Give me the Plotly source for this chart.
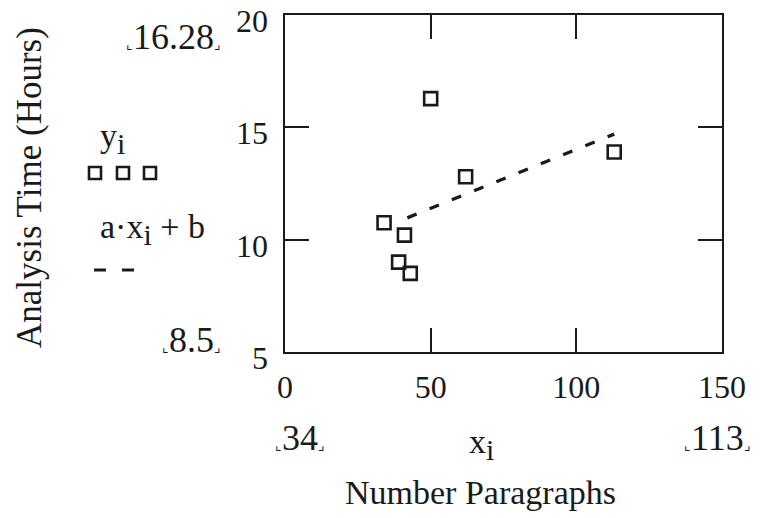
import numpy as np
import plotly.graph_objects as go

# Data
paragraphs = [34, 39, 41, 43, 50, 62, 113]
hours = [10.75, 9.0, 10.2, 8.5, 16.28, 12.8, 13.9]
fit_x = [42, 50, 62, 113]  # visible extent of the dashed fit line

x_range = [0, 150]
y_range = [5, 20]
x_ticks = [0, 50, 100, 150]
y_ticks = [5, 10, 15, 20]

a, b = np.polyfit(paragraphs, hours, 1)
fit_y = [a * x + b for x in fit_x]

FONT = "Liberation Serif, Times New Roman, serif"
INK = "#1a1a1a"

W, H = 762, 518
L, R, T, B = 285, 40, 15, 166
PW, PH = W - L - R, H - T - B


def px(x):
    return (x - L) / PW


def py(y):
    return (H - B - y) / PH


fig = go.Figure()
fig.add_trace(go.Scatter(
    x=paragraphs, y=hours, mode="markers",
    marker=dict(symbol="square-open", size=13, color=INK, line=dict(width=2.6, color=INK)),
    showlegend=False, hoverinfo="skip"))
fig.add_trace(go.Scatter(
    x=fit_x, y=fit_y, mode="lines",
    line=dict(color=INK, width=3.4, dash="10px,14px"),
    showlegend=False, hoverinfo="skip"))

axis_common = dict(showgrid=False, zeroline=False, showline=True, linecolor=INK, linewidth=2,
                   mirror="all", ticks="inside", ticklen=24, tickwidth=2, tickcolor=INK,
                   automargin=False, tickfont=dict(family=FONT, size=32, color=INK))
fig.update_xaxes(range=x_range, tickvals=x_ticks, ticklabelstandoff=6, **axis_common)
fig.update_yaxes(range=y_range, tickvals=y_ticks, showticklabels=False, **axis_common)

small = "<span style='font-size:14px'>"
sub_i = "<sub><span style='font-size:30px'>i</span></sub>"
ann = []

# y tick labels, placed via the y axis scale (sit slightly below their ticks as in the original)
for v in y_ticks:
    ann.append(dict(text=str(v), x=0, xref="paper", y=v, yref="y", xanchor="right",
                    yanchor="middle", xshift=-15, yshift=-6, showarrow=False,
                    font=dict(family=FONT, size=32, color=INK)))


def add_text(text, x, y, size=34, angle=0):
    ann.append(dict(text=text, x=px(x), y=py(y), xref="paper", yref="paper",
                    xanchor="center", yanchor="middle", showarrow=False, textangle=angle,
                    font=dict(family=FONT, size=size, color=INK)))


add_text("Analysis Time (Hours)", 29, 188, size=35, angle=-90)
add_text(f"{small}⌞</span>{max(hours):g}{small}⌟</span>", 173, 37, size=36)
add_text(f"{small}⌞</span>{min(hours):g}{small}⌟</span>", 191, 340, size=36)
add_text(f"{small}⌞</span>{min(paragraphs)}{small}⌟</span>", 300, 438, size=36)
add_text(f"{small}⌞</span>{max(paragraphs)}{small}⌟</span>", 717, 438, size=36)
add_text("y" + sub_i, 112, 138)
add_text("a·x" + sub_i + " + b", 152, 230)
add_text("x" + sub_i, 481, 445)
add_text("Number Paragraphs", 480, 492)

shapes = []
for cx in [95, 123, 150]:
    shapes.append(dict(type="rect", xref="paper", yref="paper",
                       x0=px(cx - 6), x1=px(cx + 6), y0=py(173 - 6), y1=py(173 + 6),
                       line=dict(color=INK, width=2.6)))
for cx in [100, 128]:
    shapes.append(dict(type="line", xref="paper", yref="paper",
                       x0=px(cx - 6), x1=px(cx + 6), y0=py(270), y1=py(270),
                       line=dict(color=INK, width=3)))

fig.update_layout(width=W, height=H, margin=dict(l=L, r=R, t=T, b=B, autoexpand=False),
                  plot_bgcolor="white", paper_bgcolor="white",
                  annotations=ann, shapes=shapes)
fig.write_html("out.html")
